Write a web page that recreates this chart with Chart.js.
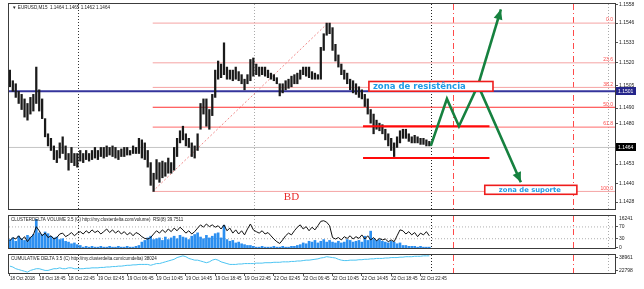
<!DOCTYPE html>
<html><head><meta charset="utf-8">
<script src="https://cdn.jsdelivr.net/npm/chart.js@4/dist/chart.umd.min.js"></script>
<style>
html,body{margin:0;padding:0;background:#fff;overflow:hidden;}
#wrap{position:relative;width:644px;height:289px;background:#fff;}
canvas{position:absolute;left:0;}
</style></head><body>
<div id="wrap">
<canvas id="cMain" width="644" height="213" style="top:0px"></canvas>
<canvas id="cVol" width="644" height="40" style="top:212px"></canvas>
<canvas id="cCum" width="644" height="38" style="top:251px"></canvas>
</div>
<script>
// ---------- DATA ----------
const timeLabels = ['18 Oct 2018','18 Oct 18:45','18 Oct 22:45','19 Oct 02:45','19 Oct 06:45','19 Oct 10:45','19 Oct 14:45','19 Oct 18:45','19 Oct 22:45','22 Oct 02:45','22 Oct 06:45','22 Oct 10:45','22 Oct 14:45','22 Oct 18:45','22 Oct 22:45'];
const timeLabelIdx = [0,10,20,30,40,50,60,70,80,90,100,110,120,130,140];

const priceHigh = [
1.1515,1.1508,1.1506,1.1501,1.1499,1.1496,1.1493,1.1497,1.1499,1.1517,
1.1502,1.1496,1.1483,1.1473,1.1470,1.1465,1.1462,1.1467,1.1471,1.1465,
1.1460,1.1464,1.1460,1.1460,1.1462,1.1460,1.1462,1.1460,1.1462,1.1464,
1.1462,1.1464,1.1464,1.1465,1.1464,1.1465,1.1464,1.1462,1.1463,1.1464,
1.1464,1.1462,1.1465,1.1464,1.1470,1.1469,1.1467,1.1462,1.1454,1.1447,
1.1456,1.1454,1.1455,1.1454,1.1457,1.1454,1.1464,1.1470,1.1475,1.1478,
1.1473,1.1470,1.1467,1.1465,1.1473,1.1493,1.1496,1.1496,1.1489,1.1499,
1.1515,1.1521,1.1519,1.1533,1.1517,1.1515,1.1515,1.1517,1.1514,1.1512,
1.1509,1.1512,1.1522,1.1523,1.1519,1.1517,1.1517,1.1517,1.1515,1.1513,
1.1512,1.1510,1.1506,1.1506,1.1508,1.1509,1.1511,1.1512,1.1513,1.1515,
1.1517,1.1517,1.1517,1.1514,1.1513,1.1512,1.1530,1.1539,1.1546,1.1546,
1.1543,1.1532,1.1525,1.1519,1.1515,1.1513,1.1509,1.1508,1.1506,1.1504,
1.1502,1.1499,1.1496,1.1489,1.1486,1.1482,1.1480,1.1479,1.1476,1.1473,
1.1470,1.1467,1.1471,1.1475,1.1476,1.1476,1.1473,1.1471,1.1472,1.1471,
1.1470,1.1470,1.1469,1.1468];
const priceLow = [
1.1504,1.1501,1.1497,1.1493,1.1489,1.1484,1.1482,1.1486,1.1488,1.1493,
1.1488,1.1483,1.1471,1.1465,1.1462,1.1456,1.1454,1.1457,1.1460,1.1456,
1.1449,1.1454,1.1452,1.1451,1.1455,1.1454,1.1456,1.1455,1.1456,1.1457,
1.1456,1.1458,1.1457,1.1458,1.1459,1.1458,1.1457,1.1456,1.1458,1.1458,
1.1459,1.1459,1.1460,1.1460,1.1460,1.1457,1.1456,1.1451,1.1439,1.1435,
1.1443,1.1441,1.1444,1.1445,1.1447,1.1447,1.1449,1.1458,1.1467,1.1469,
1.1465,1.1464,1.1458,1.1457,1.1462,1.1476,1.1486,1.1478,1.1476,1.1485,
1.1497,1.1509,1.1510,1.1512,1.1509,1.1509,1.1508,1.1509,1.1508,1.1506,
1.1502,1.1506,1.1508,1.1511,1.1512,1.1511,1.1512,1.1511,1.1510,1.1509,
1.1508,1.1506,1.1498,1.1500,1.1502,1.1503,1.1504,1.1506,1.1506,1.1509,
1.1512,1.1511,1.1510,1.1509,1.1509,1.1509,1.1509,1.1528,1.1538,1.1539,
1.1528,1.1521,1.1517,1.1512,1.1509,1.1506,1.1502,1.1500,1.1499,1.1497,
1.1496,1.1491,1.1486,1.1480,1.1473,1.1476,1.1475,1.1473,1.1469,1.1465,
1.1462,1.1458,1.1464,1.1467,1.1470,1.1470,1.1468,1.1467,1.1467,1.1467,
1.1466,1.1466,1.1465,1.1465];

const volume = [
4510,5410,3610,6310,4960,4060,6770,5860,7220,15330,
8120,7220,8570,7670,6310,5410,5860,4510,4960,3610,
3160,2260,2710,1800,1350,450,900,450,900,450,
450,900,450,450,900,450,450,900,450,450,
900,450,450,900,1350,3160,4060,5410,6310,4510,
4960,5410,4060,5860,4510,5410,6310,4960,6770,5860,
5410,4510,6310,7220,8120,5860,4960,6770,5410,6310,
7670,8120,5410,12180,4510,3610,4060,2710,3160,2260,
1800,1350,1350,900,450,450,900,450,450,450,
900,450,450,900,450,450,900,900,1350,1800,
2710,2260,3610,3160,4060,2710,3610,4510,3160,4060,
3160,2710,3610,2710,3160,4510,4060,3160,3610,4060,
3160,6310,4060,9020,4960,4060,4510,3610,3160,2710,
3610,3160,2260,2710,1350,1350,900,900,900,450,
900,450,450,450];

const rsi = [
23,34,29,40,26,37,20,34,43,71,
57,40,49,34,40,29,34,46,49,37,
43,51,40,49,54,46,57,49,60,51,
57,46,54,63,51,60,49,57,46,54,
43,51,40,51,46,37,31,29,34,46,
57,49,60,51,63,54,66,57,69,60,
49,57,46,54,66,77,69,80,71,77,
69,74,63,77,57,66,49,60,46,57,
43,63,80,60,54,49,57,46,51,40,
29,20,14,26,40,49,43,57,69,77,
63,71,57,69,60,74,89,91,86,74,
34,29,34,26,37,31,40,29,37,31,
43,29,40,26,34,23,31,26,29,20,
26,20,40,60,57,46,54,43,51,37,
49,43,54,39.75];
const rsiLevels = [70,30];

const cumDelta = [
28191,27114,24960,23883,22806,21729,20652,22806,23883,24960,
24960,23883,22806,22806,23883,24960,24960,26037,24960,24960,
26037,26037,24960,24960,24960,24960,25499,25499,26037,26037,
26037,26576,26576,27114,27114,27653,27653,28191,28191,28730,
29268,29268,29807,29807,30345,30345,30345,30345,29268,30345,
31422,31422,32499,33576,34653,35730,36807,38961,40038,41115,
40038,37884,36807,35730,35730,34653,33576,32499,33576,35730,
36807,35730,33576,32499,31422,30345,30345,30345,30884,30884,
31422,31422,31422,31422,31961,31961,31961,32499,32499,32499,
33038,33038,33038,33576,33576,33576,34115,34115,34653,34653,
35192,35730,35730,36269,36807,37346,38423,38961,40038,39500,
38961,38423,36807,35730,35192,35192,35730,35730,35730,36269,
36269,36807,36807,37346,37346,37884,37884,37884,38423,38423,
38961,38961,38961,39500,39500,40038,40038,40038,40577,40577,
40577,41115,41115,41115];

const priceTicks = [1.1558,1.1546,1.1533,1.1520,1.1505,1.1490,1.1480,1.1453,1.1440,1.1428];
const rsiTicks = [70,30,0];
const volumeMaxLabel = 16241;
const cumTicks = [38961,22798];

const fiboHigh = 1.1546, fiboLow = 1.1435;
const fiboLevels = [0,23.6,38.2,50,61.8,100];
const fiboStartIdx = 48.7, fiboDiagEndIdx = 108.4;
const bluePrice = 1.1501;
const bidPrice = 1.1464;
const userLinePrices = [1.1478,1.1457];
const userLineIdx = [120.4,163.5];
const zigIdx = [143.5,149.0,153.1,159.6,174.2];
const zigPrice = [1.1465,1.1496,1.1478,1.1505,1.1441];
const upIdx = [159.6,167.4];
const upPrice = [1.1505,1.1555];
const resistBoxIdx = [122.4,164.7], resistBoxPrice = [1.15075,1.15011];
const supportBoxIdx = [161.9,193.3], supportBoxPrice = [1.14390,1.14331];
const bdIdx = 96.0, bdPrice = 1.1431;
const separatorIdx = [23.2,83.2,143.5,151.0,192.0,203.9];

// ---------- STYLE / LAYOUT ----------
const xMin = -0.3, xMax = 206.3;
const FONT = 'Liberation Sans';
const sepStyles = [
  {c:'#333',d:[1,2]},{c:'#aaa',d:[1,2]},{c:'#222',d:[1,2]},
  {c:'#ff4a4a',d:[6,3,1,3]},{c:'#ff4a4a',d:[6,3,1,3]},{c:'#aaa',d:[1,2]}];
const fiboColors = ['#f5a3a3','#f5a3a3','#f5a3a3','#ff3030','#ff6a6a','#f5a3a3'];
const GREEN = '#16813f';

function seg(xs, ys, color, width, dash, order, yAxisID){
  return {type:'line', data: xs.map((x,i)=>({x:x, y:ys[i]})), borderColor:color, borderWidth:width,
    borderDash:dash||[], pointRadius:0, fill:false, tension:0, order:order, yAxisID:yAxisID||'y'};
}

const vLinePlugin = {
  id:'vlines',
  beforeDatasetsDraw(chart){
    const {ctx, chartArea:a} = chart; const x = chart.scales.x;
    ctx.save();
    separatorIdx.forEach((v,k)=>{
      const st = sepStyles[k];
      const px = Math.round(x.getPixelForValue(v))+0.5;
      ctx.strokeStyle = st.c; ctx.setLineDash(st.d); ctx.lineWidth = 1;
      ctx.beginPath(); ctx.moveTo(px,a.top); ctx.lineTo(px,a.bottom); ctx.stroke();
    });
    ctx.restore();
  }
};
const framePlugin = {
  id:'frame',
  afterDraw(chart){
    const {ctx, chartArea:a} = chart;
    ctx.save(); ctx.strokeStyle='#3c3c3c'; ctx.lineWidth=1;
    ctx.strokeRect(a.left-0.5, a.top-0.5, a.right-a.left+1, a.bottom-a.top+1);
    ctx.restore();
  }
};

function arrowHead(ctx,x1,y1,x2,y2,len,w){
  const a = Math.atan2(y2-y1,x2-x1), c=Math.cos(a), s=Math.sin(a);
  ctx.beginPath(); ctx.moveTo(x2,y2);
  ctx.lineTo(x2-len*c+w*s, y2-len*s-w*c);
  ctx.lineTo(x2-len*c-w*s, y2-len*s+w*c);
  ctx.closePath(); ctx.fill();
}

const mainOverlay = {
  id:'mainOverlay',
  afterDraw(chart){
    const {ctx, chartArea:a} = chart; const x=chart.scales.x, y=chart.scales.y;
    ctx.save();
    ctx.font = '4.6px '+FONT; ctx.fillStyle='#222'; ctx.textBaseline='middle'; ctx.textAlign='left';
    ctx.fillText('\u25BC EURUSD,M15  1.1464 1.1465 1.1462 1.1464', a.left+3, a.top+4);
    const fl = ['0.0','23.6','38.2','50.0','61.8','100.0'];
    ctx.font = '5px '+FONT; ctx.fillStyle='#ff4a4a'; ctx.textAlign='right'; ctx.textBaseline='bottom';
    fiboLevels.forEach((r,k)=>{
      const p = fiboHigh - r/100*(fiboHigh-fiboLow);
      ctx.fillText(fl[k], a.right-2, y.getPixelForValue(p)-0.5);
    });
    ctx.font = '11px "Liberation Serif"'; ctx.fillStyle='#e82a2a'; ctx.textAlign='center'; ctx.textBaseline='middle';
    ctx.fillText('BD', x.getPixelForValue(bdIdx), y.getPixelForValue(bdPrice));
    function box(ix, pr, font){
      const x0=x.getPixelForValue(ix[0]), x1=x.getPixelForValue(ix[1]);
      const y0=y.getPixelForValue(pr[0]), y1=y.getPixelForValue(pr[1]);
      ctx.fillStyle='#fff'; ctx.fillRect(x0,y0,x1-x0,y1-y0);
      ctx.strokeStyle='#ee1c1c'; ctx.lineWidth=1.6; ctx.strokeRect(x0,y0,x1-x0,y1-y0);
      ctx.font=font; ctx.fillStyle='#1d9be6'; ctx.textBaseline='middle';
      return {x0,x1,ym:(y0+y1)/2};
    }
    let b = box(resistBoxIdx, resistBoxPrice, 'bold 8.5px "DejaVu Sans"');
    ctx.textAlign='left'; ctx.fillText('zona de resist\u00eancia', b.x0+4, b.ym+0.5);
    b = box(supportBoxIdx, supportBoxPrice, 'bold 6.8px "DejaVu Sans"');
    ctx.textAlign='center'; ctx.fillText('zona de suporte', (b.x0+b.x1)/2-1, b.ym+0.5);
    ctx.fillStyle = GREEN;
    let n=zigIdx.length;
    arrowHead(ctx, x.getPixelForValue(zigIdx[n-2]), y.getPixelForValue(zigPrice[n-2]),
      x.getPixelForValue(zigIdx[n-1]), y.getPixelForValue(zigPrice[n-1]), 10, 4.5);
    arrowHead(ctx, x.getPixelForValue(upIdx[0]), y.getPixelForValue(upPrice[0]),
      x.getPixelForValue(upIdx[1]), y.getPixelForValue(upPrice[1]), 10, 4.5);
    ctx.font='5px '+FONT; ctx.textAlign='left'; ctx.textBaseline='middle';
    [[bluePrice,'#25258a'],[bidPrice,'#000']].forEach(([v,bg])=>{
      const py=Math.round(y.getPixelForValue(v));
      ctx.fillStyle=bg; ctx.fillRect(a.right+1, py-4, 20, 8);
      ctx.fillStyle='#fff'; ctx.fillText(v.toFixed(4), a.right+3, py+0.5);
    });
    ctx.restore();
  }
};

const baseOpts = (pad) => ({
  responsive:false, animation:false, events:[],
  layout:{padding:pad},
  plugins:{legend:{display:false}, tooltip:{enabled:false}}
});
const rightAxis = (min,max,ticks,fmt) => ({
  position:'right', min:min, max:max,
  afterFit(s){ s.width = 29; },
  afterBuildTicks(s){ s.ticks = ticks.map(v=>({value:v})); },
  ticks:{callback:fmt, font:{size:5,family:FONT}, color:'#222', padding:1, autoSkip:false},
  grid:{drawOnChartArea:false, drawTicks:true, tickLength:3, color:'#555'},
  border:{display:false}
});

// ---------- MAIN PRICE CHART ----------
const mainDatasets = [];
mainDatasets.push({type:'bar', data: priceHigh.map((h,i)=>({x:i, y:[priceLow[i], h]})),
  backgroundColor:'#1a1a1a', barThickness:1.6, order:2, yAxisID:'y'});
mainDatasets.push(seg([xMin,xMax],[bidPrice,bidPrice],'#c4c4c4',1,[],5));
fiboLevels.forEach((r,k)=>{
  const p = fiboHigh - r/100*(fiboHigh-fiboLow);
  mainDatasets.push(seg([fiboStartIdx,xMax],[p,p],fiboColors[k],1,[],4));
});
mainDatasets.push(seg([fiboStartIdx,fiboDiagEndIdx],[fiboLow,fiboHigh],'#f08a8a',1,[2,2],4));
mainDatasets.push(seg([xMin,xMax],[bluePrice,bluePrice],'#35359c',2,[],3));
userLinePrices.forEach(p=>mainDatasets.push(seg(userLineIdx,[p,p],'#ff0a0a',2,[],1)));
mainDatasets.push(seg(zigIdx, zigPrice, GREEN, 2.6, [], 0));
mainDatasets.push(seg(upIdx, upPrice, GREEN, 2.6, [], 0));

new Chart(document.getElementById('cMain'), {
  type:'bar',
  data:{datasets: mainDatasets},
  options: Object.assign(baseOpts({left:9,right:0,top:3,bottom:1}), {
    scales:{
      x:{type:'linear', min:xMin, max:xMax, display:false, offset:false},
      y: rightAxis(1.14234, 1.15586, priceTicks, v=>Number(v).toFixed(4))
    }
  }),
  plugins:[vLinePlugin, framePlugin, mainOverlay]
});

// ---------- CLUSTER DELTA VOLUME + RSI ----------
new Chart(document.getElementById('cVol'), {
  type:'bar',
  data:{datasets:[
    {type:'bar', data: volume.map((v,i)=>({x:i,y:v})), backgroundColor:'#2c8ff0', barThickness:2, order:3, yAxisID:'yv'},
    seg([xMin,xMax],[rsiLevels[0],rsiLevels[0]],'#b0b0b0',1,[1,2],4),
    seg([xMin,xMax],[rsiLevels[1],rsiLevels[1]],'#b0b0b0',1,[1,2],4),
    {type:'line', data: rsi.map((v,i)=>({x:i,y:v})), borderColor:'#111', borderWidth:1, pointRadius:0, tension:0, fill:false, order:1, yAxisID:'y'}
  ]},
  options: Object.assign(baseOpts({left:9,right:0,top:1,bottom:1}), {
    scales:{
      x:{type:'linear', min:xMin, max:xMax, display:false, offset:false},
      yv:{display:false, min:0, max:17143},
      y: rightAxis(-1.4, 107, rsiTicks, v=>String(v))
    }
  }),
  plugins:[vLinePlugin, framePlugin, {
    id:'volText',
    afterDraw(chart){
      const {ctx, chartArea:a} = chart;
      ctx.save(); ctx.font='4.5px '+FONT; ctx.fillStyle='#222'; ctx.textBaseline='middle'; ctx.textAlign='left';
      ctx.fillText('CLUSTERDELTA VOLUME 3.5 (C) http://my.clusterdelta.com/volume)  RSI(8) 39.7511', a.left+2, a.top+4);
      ctx.font='5px '+FONT;
      ctx.fillText(String(volumeMaxLabel), a.right+4, chart.scales.yv.getPixelForValue(volumeMaxLabel)+1);
      ctx.restore();
    }
  }]
});

// ---------- CUMULATIVE DELTA ----------
new Chart(document.getElementById('cCum'), {
  type:'line',
  data:{datasets:[
    {data: cumDelta.map((v,i)=>({x:i,y:v})), borderColor:'#4cc4f2', borderWidth:1, pointRadius:0, tension:0, fill:false}
  ]},
  options: Object.assign(baseOpts({left:9,right:0,top:1,bottom:0}), {
    scales:{
      x:{type:'linear', min:xMin, max:xMax, offset:false, position:'bottom',
        afterFit(s){ s.height = 16; },
        afterBuildTicks(s){ s.ticks = timeLabelIdx.map(v=>({value:v})); },
        ticks:{callback:(v)=>timeLabels[timeLabelIdx.indexOf(v)], font:{size:4.6,family:FONT}, color:'#222',
          align:'start', maxRotation:0, autoSkip:false, padding:0},
        grid:{drawOnChartArea:false, drawTicks:true, tickLength:3, color:'#555'},
        border:{display:false}},
      y: rightAxis(19566, 42194, cumTicks, v=>String(v))
    }
  }),
  plugins:[vLinePlugin, framePlugin, {
    id:'cumText',
    afterDraw(chart){
      const {ctx, chartArea:a} = chart;
      ctx.save(); ctx.font='4.5px '+FONT; ctx.fillStyle='#222'; ctx.textBaseline='middle'; ctx.textAlign='left';
      ctx.fillText('CUMULATIVE DELTA 3.5 (C) http://my.clusterdelta.com/cumdelta) 38024', a.left+2, a.top+4);
      ctx.restore();
    }
  }]
});
</script>
</body></html>
